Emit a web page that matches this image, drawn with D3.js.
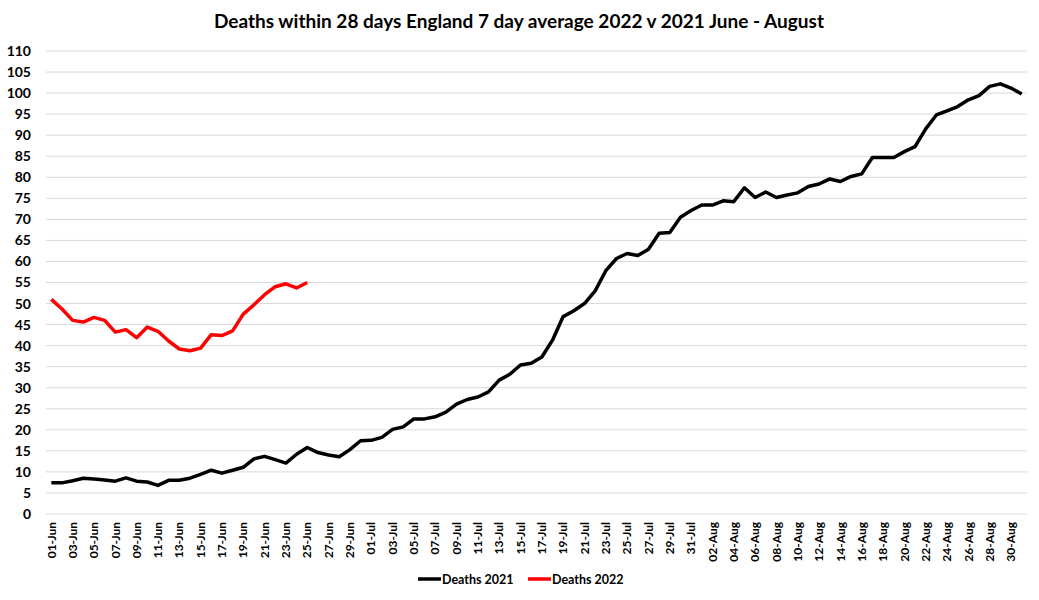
<!DOCTYPE html>
<html>
<head>
<meta charset="utf-8">
<script src="https://cdn.jsdelivr.net/npm/d3@7"></script>
<style>
  body { margin: 0; background: #fff; }
  svg { font-family: Lato, "Liberation Sans", sans-serif; font-weight: bold; }
</style>
</head>
<body>
<svg width="1039" height="600"></svg>
<script>
// Data
const months = [["Jun", 30], ["Jul", 31], ["Aug", 31]];
const yTicks = d3.range(0, 111, 5);

const deaths2021 = [
  7.4, 7.4, 7.9, 8.5, 8.3, 8.1, 7.8, 8.6, 7.8, 7.6,
  6.8, 8.0, 8.0, 8.5, 9.4, 10.4, 9.7, 10.4, 11.1, 13.1,
  13.7, 12.9, 12.1, 14.2, 15.8, 14.6, 14.0, 13.6, 15.3, 17.4,
  17.5, 18.2, 20.1, 20.7, 22.6, 22.6, 23.1, 24.2, 26.1, 27.2,
  27.8, 29.0, 31.8, 33.2, 35.4, 35.8, 37.3, 41.3, 46.9, 48.3,
  50.0, 53.0, 57.8, 60.7, 61.9, 61.4, 62.9, 66.7, 66.9, 70.5,
  72.1, 73.4, 73.4, 74.4, 74.2, 77.5, 75.2, 76.5, 75.2, 75.8,
  76.3, 77.8, 78.4, 79.6, 79.0, 80.2, 80.8, 84.7, 84.7, 84.7,
  86.1, 87.3, 91.5, 94.8, 95.8, 96.8, 98.4, 99.4, 101.6, 102.2,
  101.2, 99.8
];

const deaths2022 = [
  51.0, 48.7, 46.0, 45.6, 46.7, 46.0, 43.2, 43.8, 41.9, 44.4,
  43.4, 41.1, 39.2, 38.8, 39.4, 42.6, 42.4, 43.5, 47.5, 49.7,
  52.1, 54.0, 54.7, 53.7, 55.0
];

// category labels 01-Jun .. 31-Aug
const days = [];
months.forEach(([m, n]) => {
  for (let d = 1; d <= n; d++) days.push(String(d).padStart(2, "0") + "-" + m);
});

const series = [
  {name: "Deaths 2021", color: "#000000", values: deaths2021},
  {name: "Deaths 2022", color: "#ff0000", values: deaths2022}
];

const svg = d3.select("svg");
const margin = {top: 51, right: 12, bottom: 86, left: 46};
const width = 1039 - margin.left - margin.right;
const height = 600 - margin.top - margin.bottom;

const g = svg.append("g")
  .attr("transform", `translate(${margin.left}, ${margin.top})`);

// title
svg.append("text")
  .attr("x", 519)
  .attr("y", 28)
  .attr("text-anchor", "middle")
  .attr("font-size", "19px")
  .attr("fill", "#000")
  .text("Deaths within 28 days England 7 day average 2022 v 2021 June - August");

const x = d3.scaleBand()
  .domain(days)
  .range([0, width]);

const y = d3.scaleLinear()
  .domain([0, 110])
  .range([height, 0]);

// gridlines
g.selectAll("line.grid")
  .data(yTicks)
  .enter()
  .append("line")
  .attr("class", "grid")
  .attr("x1", 0)
  .attr("x2", width)
  .attr("y1", d => y(d))
  .attr("y2", d => y(d))
  .attr("stroke", "#d9d9d9")
  .attr("stroke-width", 1);

// Y axis
const yAxis = g.append("g")
  .call(d3.axisLeft(y).tickValues(yTicks).tickSize(0).tickPadding(15));
yAxis.select(".domain").remove();
yAxis.selectAll("text")
  .attr("font-size", "14px")
  .attr("font-family", "Lato, sans-serif")
  .attr("font-weight", "bold")
  .attr("fill", "#000");

// X axis, every other day labelled
const xAxis = g.append("g")
  .attr("transform", `translate(0, ${height})`)
  .call(d3.axisBottom(x)
    .tickValues(days.filter((d, i) => i % 2 === 0))
    .tickSize(0));
xAxis.select(".domain").remove();
xAxis.selectAll("text")
  .attr("font-size", "12px")
  .attr("font-family", "Lato, sans-serif")
  .attr("font-weight", "bold")
  .attr("fill", "#000")
  .attr("text-anchor", "end")
  .attr("transform", "rotate(-90)")
  .attr("x", -8)
  .attr("y", 0)
  .attr("dy", "0.35em");

const line = d3.line()
  .x((d, i) => x(days[i]) + x.bandwidth() / 2)
  .y(d => y(d));

g.selectAll("path.series")
  .data(series)
  .enter()
  .append("path")
  .attr("class", "series")
  .attr("fill", "none")
  .attr("stroke", d => d.color)
  .attr("stroke-width", 3.5)
  .attr("stroke-linejoin", "round")
  .attr("d", d => line(d.values));

// Legend
const legend = svg.append("g")
  .attr("transform", "translate(418, 579)");

const items = legend.selectAll("g")
  .data(series)
  .enter()
  .append("g")
  .attr("transform", (d, i) => `translate(${i * 110}, 0)`);

items.append("line")
  .attr("x1", 0)
  .attr("x2", 23)
  .attr("stroke", d => d.color)
  .attr("stroke-width", 3.5);

items.append("text")
  .attr("x", 24)
  .attr("y", 4.5)
  .attr("font-size", "12.5px")
  .attr("fill", "#000")
  .text(d => d.name);
</script>
</body>
</html>
